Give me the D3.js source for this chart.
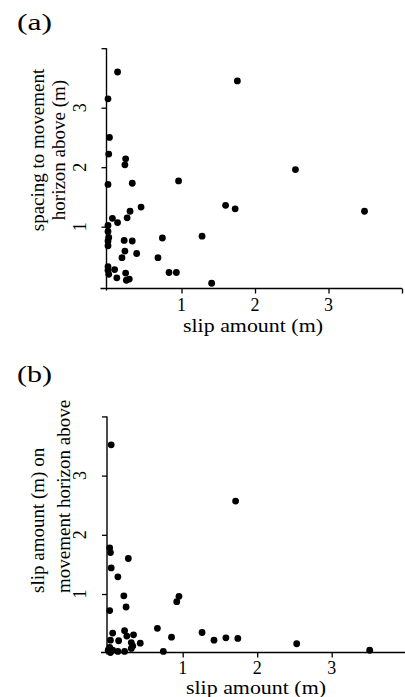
<!DOCTYPE html>
<html><head><meta charset="utf-8">
<script src="https://cdn.jsdelivr.net/npm/d3@7"></script>
<style>
body{margin:0;background:#fff}
svg text{font-family:"Liberation Serif","Times New Roman",serif;fill:#000}
</style>
</head><body><svg id="c" width="405" height="697"></svg>
<script>
// Panel (a): slip amount vs spacing to movement horizon above
const slipA=[0.13,1.76,0.00,0.02,0.01,0.24,0.23,0.00,0.33,0.96,0.45,0.30,0.26,0.06,0.13,0.00,0.00,0.01,0.00,0.00,0.22,0.33,0.74,1.28,0.23,0.39,0.19,0.68,0.00,0.00,0.09,0.01,0.24,0.12,0.25,0.29,0.83,0.93,1.41,1.60,1.73,2.55,3.49];
const spacingA=[3.60,3.45,3.15,2.50,2.22,2.14,2.04,1.71,1.73,1.77,1.33,1.26,1.15,1.14,1.07,1.02,0.92,0.82,0.76,0.68,0.77,0.76,0.81,0.84,0.59,0.55,0.48,0.48,0.33,0.27,0.28,0.20,0.22,0.14,0.10,0.12,0.23,0.23,0.05,1.36,1.30,1.96,1.26];
// Panel (b): slip amount vs slip amount on movement horizon above
const slipB=[0.04,1.71,0.02,0.03,0.27,0.04,0.13,0.21,0.24,0.02,0.95,0.92,0.66,0.85,1.26,1.42,1.58,1.74,0.74,0.06,0.22,0.25,0.34,0.14,0.03,0.31,0.43,0.02,0.00,0.06,0.13,0.22,0.31,0.33,0.03,2.53,3.51];
const slipAboveB=[3.52,2.57,1.78,1.70,1.60,1.44,1.29,0.97,0.78,0.72,0.96,0.87,0.42,0.27,0.35,0.22,0.26,0.25,0.03,0.34,0.38,0.29,0.31,0.21,0.22,0.18,0.17,0.10,0.05,0.05,0.03,0.03,0.08,0.12,0.01,0.16,0.05];
const xTicks=[1,2,3,4];
const xTickLabels=["1","2","3",""];
const yTicks=[1,2,3,4];
const yTickLabels=["1","2","3",""];
const xTitle="slip amount (m)";
const yTitleA=["spacing to movement","horizon above (m)"];
const yTitleB=["slip amount (m) on","movement horizon above"];

const svg=d3.select("#c");

function panel(cfg){
  const x=d3.scaleLinear().domain([0,4]).range(cfg.xr);
  const y=d3.scaleLinear().domain([0,4]).range(cfg.yr);
  const g=svg.append("g");
  // x axis (ticks only; tick text drawn below)
  const gx=g.append("g").attr("transform",`translate(0,${cfg.axY})`)
    .call(d3.axisBottom(x).tickValues(xTicks).tickFormat(()=> "").tickSizeOuter(0).tickSize(5));
  gx.select(".domain").remove();
  gx.selectAll(".tick line").attr("stroke","#000").attr("stroke-width",1.3);
  g.append("line").attr("x1",cfg.axX-6).attr("x2",cfg.xEnd).attr("y1",cfg.axY).attr("y2",cfg.axY).attr("stroke","#000").attr("stroke-width",1.4);
  g.selectAll("text.xt").data(xTicks).join("text").attr("class","xt")
    .attr("x",d=>x(d)).attr("y",cfg.axY+cfg.xLabOff).attr("text-anchor","middle")
    .style("font-size","18px").text((d,i)=>xTickLabels[i]);
  // y axis
  const gy=g.append("g").attr("transform",`translate(${cfg.axX},0)`)
    .call(d3.axisLeft(y).tickValues(yTicks).tickFormat(()=> "").tickSizeOuter(0).tickSize(5));
  gy.select(".domain").remove();
  gy.selectAll(".tick line").attr("stroke","#000").attr("stroke-width",1.3);
  g.append("line").attr("x1",cfg.axX).attr("x2",cfg.axX).attr("y1",y(4)).attr("y2",cfg.axY+2).attr("stroke","#000").attr("stroke-width",1.4);
  g.selectAll("text.yt").data(yTicks).join("text").attr("class","yt")
    .attr("transform",d=>`translate(${cfg.axX-21},${y(d)}) rotate(-90)`).attr("text-anchor","middle")
    .style("font-size","18px").text((d,i)=>yTickLabels[i]);
  // dots
  g.selectAll("circle").data(cfg.xs.map((v,i)=>[v,cfg.ys[i]])).join("circle")
    .attr("cx",d=>x(d[0])).attr("cy",d=>y(d[1])).attr("r",3.4).attr("fill","#000");
  // x title
  g.append("text").attr("x",cfg.xtX).attr("y",cfg.xtY).attr("text-anchor","middle")
    .attr("textLength",140).attr("lengthAdjust","spacingAndGlyphs").style("font-size","19px").text(xTitle);
  // y title
  cfg.yTitle.forEach((t,i)=>{
    g.append("text").attr("transform",`translate(${cfg.ytX[i]},${cfg.ytY}) rotate(-90)`)
      .attr("text-anchor",cfg.ytAnchor).style("font-size","19px").text(t);
  });
  // panel label
  g.append("text").attr("x",17).attr("y",cfg.plY).attr("textLength",35).attr("lengthAdjust","spacingAndGlyphs")
    .style("font-size","24px").text(cfg.pl);
}

panel({xs:slipA,ys:spacingA,xr:[108,402],yr:[286.2,48.2],axY:288.5,axX:106.5,xEnd:402,xLabOff:22.5,
  xtX:253,xtY:332,yTitle:yTitleA,ytX:[44,65],ytY:150,ytAnchor:"middle",pl:"(a)",plY:30});
panel({xs:slipB,ys:slipAboveB,xr:[108.2,406.2],yr:[653.2,416.4],axY:652.5,axX:107,xEnd:405,xLabOff:21.5,
  xtX:256,xtY:694,yTitle:yTitleB,ytX:[44,70],ytY:593,ytAnchor:"start",pl:"(b)",plY:382});
</script>
</body></html>
